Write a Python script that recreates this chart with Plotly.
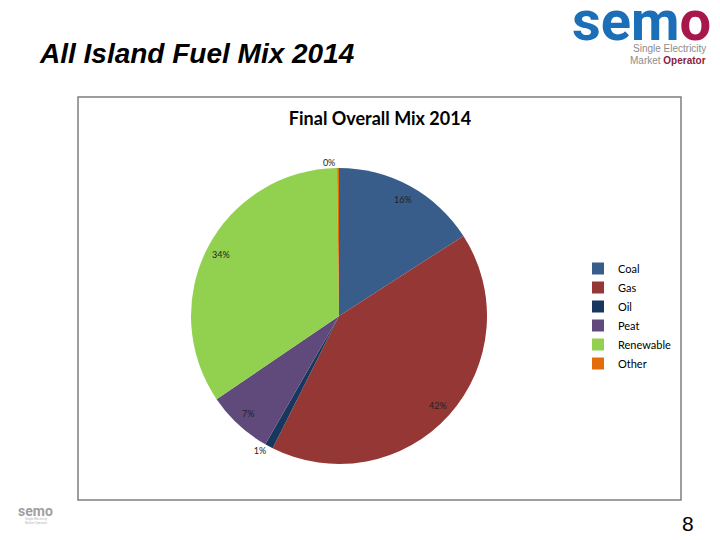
import math
import plotly.graph_objects as go

# =============================================================================
# Data
# =============================================================================
fuels = ['Coal', 'Gas', 'Oil', 'Peat', 'Renewable', 'Other']
shares = [15.9, 41.5, 0.9, 7.2, 34.3, 0.2]
colors = ['#385D8A', '#953735', '#17375E', '#604A7B', '#92D050', '#E46C0A']

# page body has an 8px margin, so the figure is drawn 8px in from the window edge
OFF = 8
W, H = 720 - OFF, 540 - OFF


def px_x(x):
    return (x - OFF) / W


def px_y(y):
    return 1 - (y - OFF) / H


# pie placement (window pixels)
CX, CY, R = 339, 316, 148

# small slices get their label outside, big ones an annotation near the rim
total = sum(shares)
is_small = [v / total < 0.02 for v in shares]
label_pos = ['outside' if s else 'none' for s in is_small]

fig = go.Figure()

fig.add_trace(go.Pie(
    labels=fuels, values=shares,
    marker=dict(colors=colors, line=dict(width=0)),
    sort=False, direction='clockwise', rotation=0,
    textposition=label_pos,
    texttemplate='%{percent:.0%}',
    textfont=dict(family='Lato', size=9, color='#222'),
    domain=dict(x=[px_x(CX - R), px_x(CX + R)], y=[px_y(CY + R), px_y(CY - R)]),
    hoverinfo='label+percent',
))

annotations = []

# labels for the larger slices, Excel style (about 0.9 of the radius)
cum = 0
for v, small in zip(shares, is_small):
    mid = (cum + v / 2) / total * 2 * math.pi
    cum += v
    if small:
        continue
    r = 0.9 * R
    annotations.append(dict(
        x=px_x(CX + r * math.sin(mid)), y=px_y(CY - r * math.cos(mid)),
        text=f'{round(v / total * 100)}%', showarrow=False,
        xanchor='center', yanchor='middle',
        font=dict(family='Lato', size=9, color='#222')))

# chart frame
fig.add_shape(type='rect', xref='paper', yref='paper',
              x0=px_x(78), x1=px_x(681), y0=px_y(500), y1=px_y(97),
              line=dict(color='#7F7F7F', width=1.5), fillcolor='rgba(0,0,0,0)')

annotations += [
    # slide title
    dict(x=px_x(37), y=px_y(53), text='<b><i>All Island Fuel Mix 2014</i></b>',
         xanchor='left', yanchor='middle', showarrow=False,
         font=dict(family='Liberation Sans', size=28, color='#000')),
    # semo logo
    dict(x=px_x(713), y=px_y(21),
         text='<span style="color:#1B6FB8">sem</span><span style="color:#A8174B">o</span>',
         xanchor='right', yanchor='middle', showarrow=False,
         font=dict(family='Roboto', size=56, weight='bold')),
    dict(x=px_x(708), y=px_y(49), text='Single Electricity',
         xanchor='right', yanchor='middle', showarrow=False,
         font=dict(family='Liberation Sans', size=10, color='#8C8C8C')),
    dict(x=px_x(708), y=px_y(60),
         text='Market <b><span style="color:#8B1C3C">Operator</span></b>',
         xanchor='right', yanchor='middle', showarrow=False,
         font=dict(family='Liberation Sans', size=10, color='#8C8C8C')),
    # small footer logo
    dict(x=px_x(16), y=px_y(511), text='semo',
         xanchor='left', yanchor='middle', showarrow=False,
         font=dict(family='Roboto', size=14, color='#A0A0A0', weight='bold')),
    dict(x=px_x(50), y=px_y(521), text='Single Electricity<br>Market Operator',
         xanchor='right', yanchor='middle', showarrow=False,
         font=dict(family='Liberation Sans', size=3, color='#B0B0B0')),
    # page number
    dict(x=px_x(688), y=px_y(523), text='8',
         xanchor='center', yanchor='middle', showarrow=False,
         font=dict(family='Liberation Sans', size=21, color='#000')),
]

fig.update_layout(
    width=W, height=H,
    paper_bgcolor='white', plot_bgcolor='white',
    margin=dict(l=0, r=0, t=0, b=0),
    title=dict(text='Final Overall Mix 2014', x=px_x(380), y=px_y(119),
               xanchor='center', yanchor='middle',
               font=dict(family='Lato', size=18, color='#000', weight='bold')),
    legend=dict(x=px_x(578), y=px_y(254), xanchor='left', yanchor='top',
                font=dict(family='Lato', size=11, color='#000'),
                itemwidth=30, bgcolor='rgba(0,0,0,0)'),
    annotations=annotations,
    showlegend=True,
)

fig.write_html("out.html")
